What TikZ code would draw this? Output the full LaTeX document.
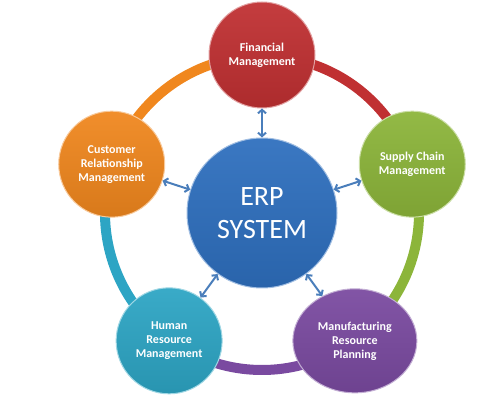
\documentclass[tikz,border=0pt]{standalone}
\usepackage{fontspec}
\setmainfont{Carlito}
\usetikzlibrary{arrows.meta,shapes.geometric}

\definecolor{finred}{RGB}{192,48,50}
\definecolor{supgreen}{RGB}{140,181,58}
\definecolor{manpurple}{RGB}{122,74,160}
\definecolor{humteal}{RGB}{45,165,196}
\definecolor{cusorange}{RGB}{240,135,30}
\definecolor{erpblue}{RGB}{46,111,190}
\definecolor{arrowblue}{RGB}{74,126,187}

\begin{document}
\begin{tikzpicture}[x=1pt,y=1pt,
  module/.style={circle,minimum size=106pt,inner sep=0pt,align=center,
    text=white,font=\bfseries\fontsize{12}{14}\selectfont,
    top color=#1!94!white,bottom color=#1!90!black,draw=#1!45!white,line width=1pt},
  link/.style={{Straight Barb[length=3.5pt,width=8pt]}-{Straight Barb[length=3.5pt,width=8pt]},
    line width=2pt,arrowblue},
  ring/.style={line width=10pt}]
\useasboundingbox (0,0) rectangle (501,407);

% ring behind the modules
\coordinate (hub) at (262,194);
\foreach \a/\c in {90/finred,18/supgreen,-54/manpurple,-126/humteal,162/cusorange}
  \draw[ring,\c] ([shift={(\a:157)}]hub) arc[start angle=\a,delta angle=-72,radius=157];

% modules
\node[module=finred] (fin) at ([shift={(90:158)}]hub) {Financial\\Management};
\node[module=supgreen] (sup) at ([shift={(18:158)}]hub) {Supply Chain\\Management};
\node[module=manpurple,ellipse,minimum width=124pt,minimum height=104pt] (man)
  at ([shift={(-54:158)}]hub) {Manufacturing\\Resource\\Planning};
\node[module=humteal] (hum) at ([shift={(-126:158)}]hub) {Human\\Resource\\Management};
\node[module=cusorange] (cus) at ([shift={(162:158)}]hub) {Customer\\Relationship\\Management};

% centre
\node[module=erpblue,minimum size=150pt,font=\fontsize{28}{33}\selectfont] (erp) at (hub) {ERP\\SYSTEM};

% links
\foreach \m in {fin,sup,man,hum,cus}
  \draw[link] (erp) -- (\m);
\end{tikzpicture}
\end{document}
